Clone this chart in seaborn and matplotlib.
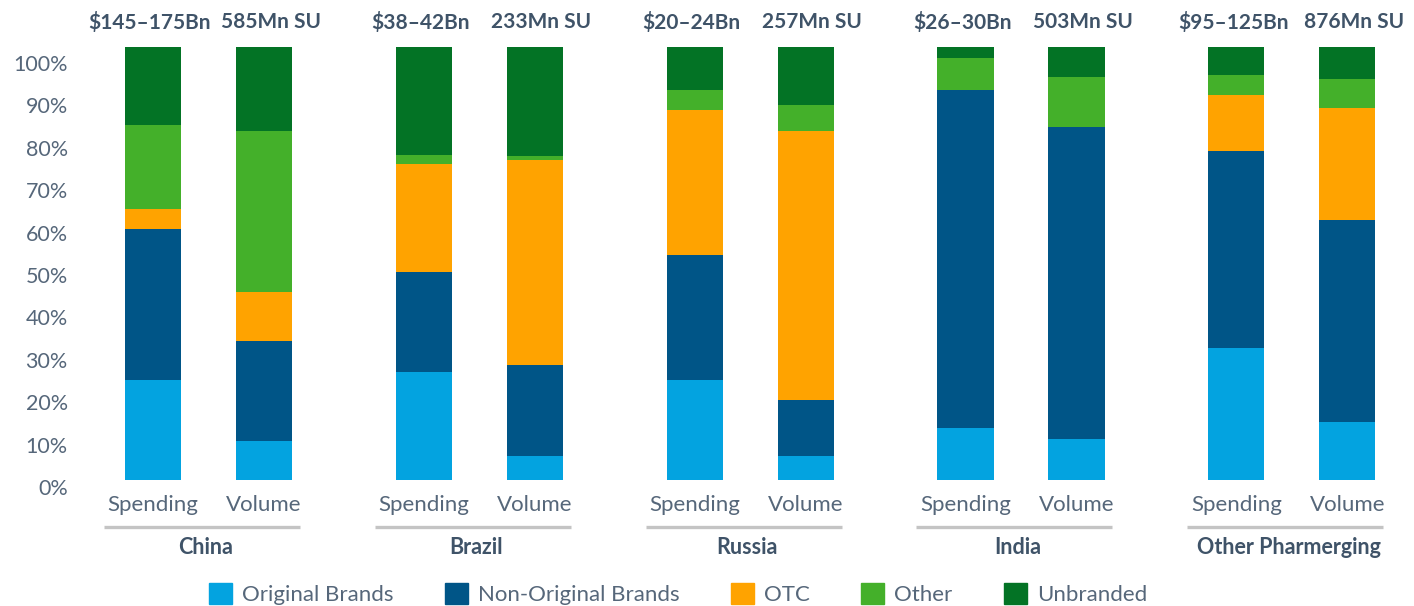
import matplotlib
matplotlib.use("Agg")
import matplotlib.pyplot as plt
import matplotlib.patches as mpatches
import matplotlib.transforms as mtransforms
import numpy as np
import pandas as pd
import seaborn as sns

countries = ["China", "Brazil", "Russia", "India", "Other Pharmerging"]
measures = ["Spending", "Volume"]
top_labels = ["$145–175Bn", "585Mn SU", "$38–42Bn", "233Mn SU", "$20–24Bn",
              "257Mn SU", "$26–30Bn", "503Mn SU", "$95–125Bn", "876Mn SU"]

# share (%) per bar, order: China S, China V, Brazil S, Brazil V, ...
original_brands = [23, 9, 25, 5.5, 23, 5.5, 12, 9.5, 30.5, 13.5]
non_original = [35, 23, 23, 21, 29, 13, 78, 72, 45.5, 46.5]
otc = [4.5, 11.5, 25, 47.5, 33.5, 62, 0, 0, 13, 26]
other = [19.5, 37, 2, 0.8, 4.5, 6, 7.5, 11.5, 4.5, 6.5]
unbranded = [18, 19.5, 25, 25.2, 10, 13.5, 2.5, 7, 6.5, 7.5]

segments = ["Original Brands", "Non-Original Brands", "OTC", "Other", "Unbranded"]
colors = ["#03a3e0", "#005587", "#ffa300", "#44b02a", "#037325"]

gap = 2.44
pos = [g * gap + j for g in range(len(countries)) for j in range(2)]

df = pd.DataFrame({"pos": pos,
                   "Original Brands": original_brands,
                   "Non-Original Brands": non_original,
                   "OTC": otc,
                   "Other": other,
                   "Unbranded": unbranded})
cum = df[segments].cumsum(axis=1)
cum["pos"] = df["pos"]

sns.set_theme(style="white")
plt.rcParams['font.family'] = ['Lato', 'DejaVu Sans']
txt = "#56677a"
dark = "#3f5368"

fig = plt.figure(figsize=(14.14, 6.06), dpi=100)
ax = fig.add_axes([90 / 1414, (606 - 493) / 606, 1320 / 1414, 446 / 606])

# stacked bars: draw cumulative totals from the top down
for name, col in reversed(list(zip(segments, colors))):
    sns.barplot(data=cum, x="pos", y=name, native_scale=True, width=0.505,
                color=col, saturation=1, errorbar=None, linewidth=0, ax=ax)

ax.set_xlim(-(153 - 90) / 111, (1410 - 153) / 111)
ax.set_ylim(-3, 100)
sns.despine(ax=ax, left=True, bottom=True)

yt = np.linspace(-1.6, 96.3, 11)
ax.set_yticks(yt)
ax.set_yticklabels([f"{v}%" for v in range(0, 101, 10)], fontsize=15.5, color=txt)
ax.set_xticks(pos)
ax.set_xticklabels(measures * len(countries), fontsize=16, color=txt)
ax.tick_params(axis="both", length=0)
ax.tick_params(axis="y", pad=16)
ax.tick_params(axis="x", pad=1.5)
ax.set_xlabel("")
ax.set_ylabel("")

trans = mtransforms.blended_transform_factory(ax.transData, ax.transAxes)
for g, c in enumerate(countries):
    mid = g * gap + 0.5 - 0.06
    ax.plot([mid - 0.883, mid + 0.883], [-0.076, -0.076], transform=trans,
            color="#c4c4c4", lw=2.4, clip_on=False, solid_capstyle="butt")
    ax.text(mid + 0.03, -0.123, c, transform=trans, ha="center", va="center",
            fontsize=15.5, fontweight="bold", color=dark)

for i, (p, lab) in enumerate(zip(pos, top_labels)):
    shift = -0.03 if i % 2 == 0 else 0.06
    ax.text(p + shift, 1.056, lab, transform=trans, ha="center", va="center",
            fontsize=15, fontweight="bold", color=dark)

handles = [mpatches.Patch(color=c, label=s) for s, c in zip(segments, colors)]
leg = fig.legend(handles=handles, loc="center", bbox_to_anchor=(678 / 1414, 12 / 606),
                 ncol=5, frameon=False, fontsize=16, handlelength=1.05, handleheight=1.05,
                 handletextpad=0.45, columnspacing=2.3)
for t in leg.get_texts():
    t.set_color(txt)

fig.savefig("out.png", dpi=100)
